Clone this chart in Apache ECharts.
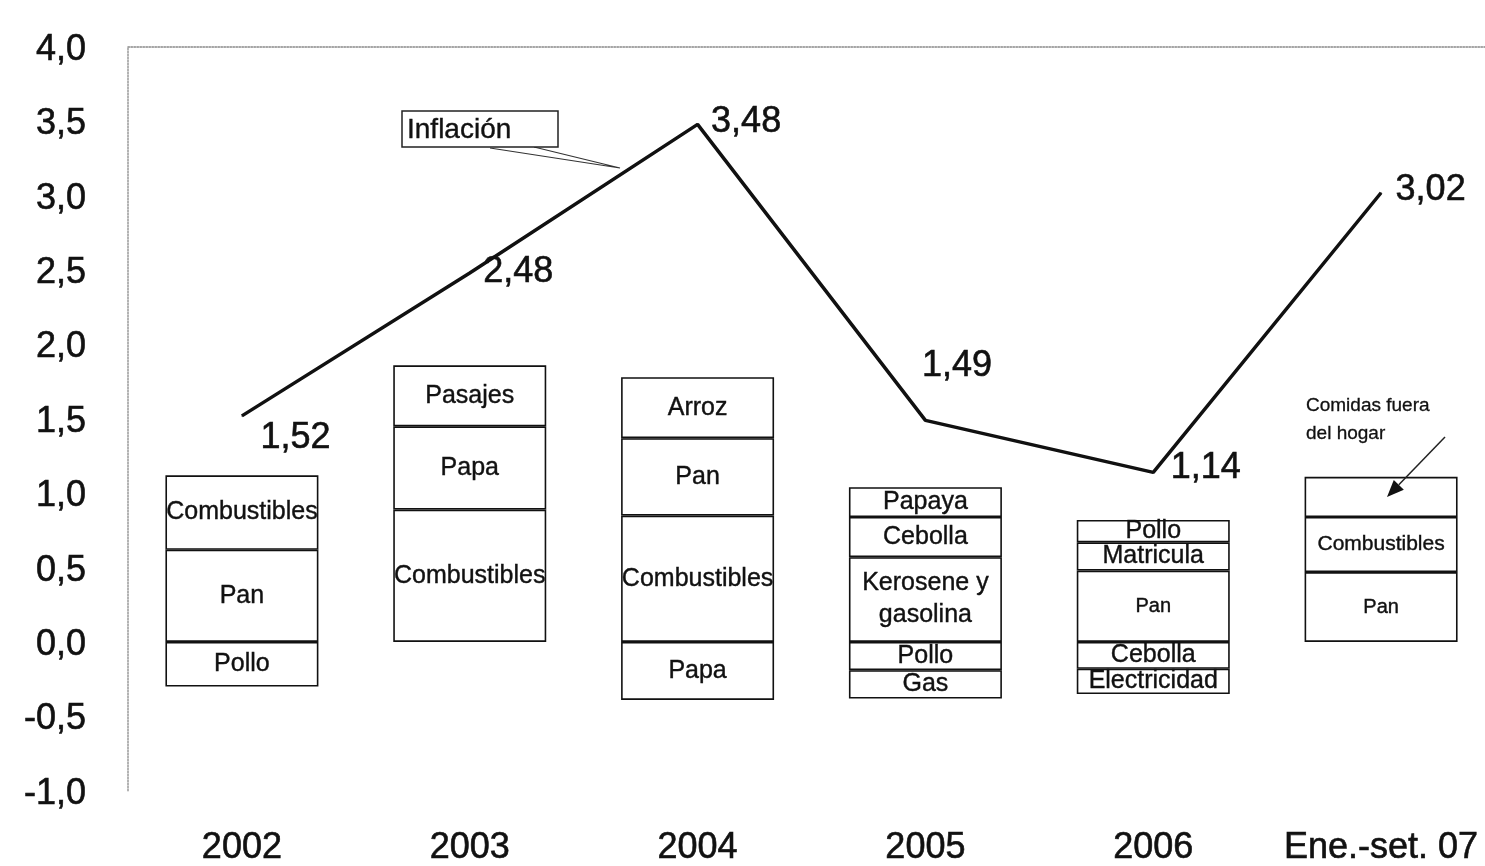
<!DOCTYPE html>
<html>
<head>
<meta charset="utf-8">
<script src="https://cdn.jsdelivr.net/npm/echarts@6/dist/echarts.min.js"></script>
<style>
html,body{margin:0;padding:0;background:#fff;overflow:hidden;}
#chart{width:1500px;height:866px;}
</style>
</head>
<body>
<div id="chart"></div>
<script>
// ---- data ----
const categories = ['2002', '2003', '2004', '2005', '2006', 'Ene.-set. 07'];
const inflation = [1.52, 2.48, 3.48, 1.49, 1.14, 3.02];

// stacked segments: first positive level sits on zero, negative levels go downward
const pos1Values = [0.62, 0.89, 0.85, 0.57, 0.48, 0.47];
const pos1Names  = ['Pan', 'Combustibles', 'Combustibles', 'Kerosene y\ngasolina', 'Pan', 'Pan'];
const pos2Values = [0.50, 0.56, 0.52, 0.27, 0.19, 0.37];
const pos2Names  = ['Combustibles', 'Papa', 'Pan', 'Cebolla', 'Matricula', 'Combustibles'];
const pos3Values = [null, 0.41, 0.41, 0.20, 0.15, 0.27];
const pos3Names  = ['', 'Pasajes', 'Arroz', 'Papaya', 'Pollo', ''];
const neg1Values = [-0.30, null, -0.39, -0.19, -0.18, null];
const neg1Names  = ['Pollo', '', 'Papa', 'Pollo', 'Cebolla', ''];
const neg2Values = [null, null, null, -0.19, -0.17, null];
const neg2Names  = ['', '', '', 'Gas', 'Electricidad', ''];

const yTicks = { min: -1, max: 4, interval: 0.5 };

// ---- styles ----
const FONT = "'Liberation Sans', Arial, Helvetica, sans-serif";
const smallLabel = { '4|pos1': 20, '5|pos1': 20, '5|pos2': 21 };
const lineLabelOffsets = [[13, 22], [8, -1], [8, -2], [-9, -54], [12, -4], [9, -3]];
const thick = { textBorderColor: '#111', textBorderWidth: 0.6 };

const levels = [
  { key: 'neg1', values: neg1Values, names: neg1Names },
  { key: 'neg2', values: neg2Values, names: neg2Names },
  { key: 'pos1', values: pos1Values, names: pos1Names },
  { key: 'pos2', values: pos2Values, names: pos2Names },
  { key: 'pos3', values: pos3Values, names: pos3Names }
];

const comma = (v, d) => v.toFixed(d).replace('.', ',');

const barSeries = levels.map(lv => ({
  type: 'bar',
  name: lv.key,
  stack: 'total',
  barWidth: 153,
  xAxisIndex: 0,
  itemStyle: { color: '#fff', borderColor: '#111', borderWidth: 1.6 },
  label: {
    show: true,
    position: 'inside',
    color: '#111',
    fontFamily: FONT,
    fontSize: 25,
    lineHeight: 32,
    overflow: 'none',
    textBorderColor: '#111',
    textBorderWidth: 0.4,
    formatter: p => lv.names[p.dataIndex]
  },
  emphasis: { disabled: true },
  data: lv.values.map((v, i) => {
    if (v == null) return null;
    const fs = smallLabel[i + '|' + lv.key];
    return fs ? { value: v, label: { fontSize: fs } } : { value: v };
  })
}));

const lineSeries = {
  type: 'line',
  name: 'Inflación',
  xAxisIndex: 0,
  data: inflation.map((v, i) => ({ value: v, label: { offset: lineLabelOffsets[i] } })),
  symbol: 'circle',
  symbolSize: 1,
  itemStyle: { color: '#111' },
  lineStyle: { color: '#111', width: 3.5 },
  label: Object.assign({
    show: true,
    position: 'right',
    color: '#111',
    fontFamily: FONT,
    fontSize: 36,
    formatter: p => comma(p.value, 2)
  }, thick),
  emphasis: { disabled: true },
  z: 5
};

const chart = echarts.init(document.getElementById('chart'), null, { renderer: 'canvas' });

// arrow geometry for the "Comidas fuera del hogar" callout
const aStart = [1445, 437], aTip = [1387, 497];
const dx = aTip[0] - aStart[0], dy = aTip[1] - aStart[1];
const len = Math.hypot(dx, dy), ux = dx / len, uy = dy / len;
const base = [aTip[0] - 17 * ux, aTip[1] - 17 * uy];
const px = -uy, py = ux;

chart.setOption({
  animation: false,
  backgroundColor: '#fff',
  textStyle: { fontFamily: FONT },
  grid: { left: 128, top: 47, width: 1367, height: 750, containLabel: false },
  xAxis: [
    {
      type: 'category',
      data: categories,
      position: 'bottom',
      axisLine: { show: false },
      axisTick: { show: false },
      axisLabel: Object.assign({ color: '#111', fontSize: 36, fontFamily: FONT, margin: 39, interval: 0 }, thick),
      splitLine: { show: false }
    },
    {
      type: 'category',
      data: categories,
      position: 'top',
      axisLine: { show: true, lineStyle: { color: '#888', type: 'dotted', width: 1.5 } },
      axisTick: { show: false },
      axisLabel: { show: false },
      splitLine: { show: false }
    }
  ],
  yAxis: {
    type: 'value',
    min: yTicks.min,
    max: yTicks.max,
    interval: yTicks.interval,
    axisLine: { show: true, lineStyle: { color: '#999', type: 'dotted', width: 1.5 } },
    axisTick: { show: false },
    splitLine: { show: false },
    axisLabel: Object.assign({
      color: '#111',
      fontSize: 36,
      fontFamily: FONT,
      margin: 42,
      verticalAlign: 'top',
      lineHeight: 6,
      formatter: v => comma(v, 1)
    }, thick)
  },
  series: [...barSeries, lineSeries],
  graphic: [
    {
      type: 'rect',
      shape: { x: 402, y: 111, width: 156, height: 36 },
      style: { fill: '#fff', stroke: '#222', lineWidth: 1.5 },
      z: 10
    },
    {
      type: 'text',
      x: 407, y: 130,
      style: { text: 'Inflación', fill: '#111', font: "28px " + FONT, textVerticalAlign: 'middle', stroke: '#111', lineWidth: 0.4 },
      z: 11
    },
    {
      type: 'polyline',
      shape: { points: [[490, 148], [620, 168], [534, 147]] },
      style: { stroke: '#333', lineWidth: 1.2, fill: null },
      z: 9
    },
    {
      type: 'text',
      x: 1306, y: 392,
      style: { text: 'Comidas fuera\ndel hogar', fill: '#111', font: "19px " + FONT, lineHeight: 28, stroke: '#111', lineWidth: 0.3 },
      z: 11
    },
    {
      type: 'line',
      shape: { x1: aStart[0], y1: aStart[1], x2: base[0], y2: base[1] },
      style: { stroke: '#222', lineWidth: 1.5 },
      z: 11
    },
    {
      type: 'polygon',
      shape: { points: [aTip, [base[0] + 7 * px, base[1] + 7 * py], [base[0] - 7 * px, base[1] - 7 * py]] },
      style: { fill: '#111' },
      z: 11
    }
  ]
});
</script>
</body>
</html>
